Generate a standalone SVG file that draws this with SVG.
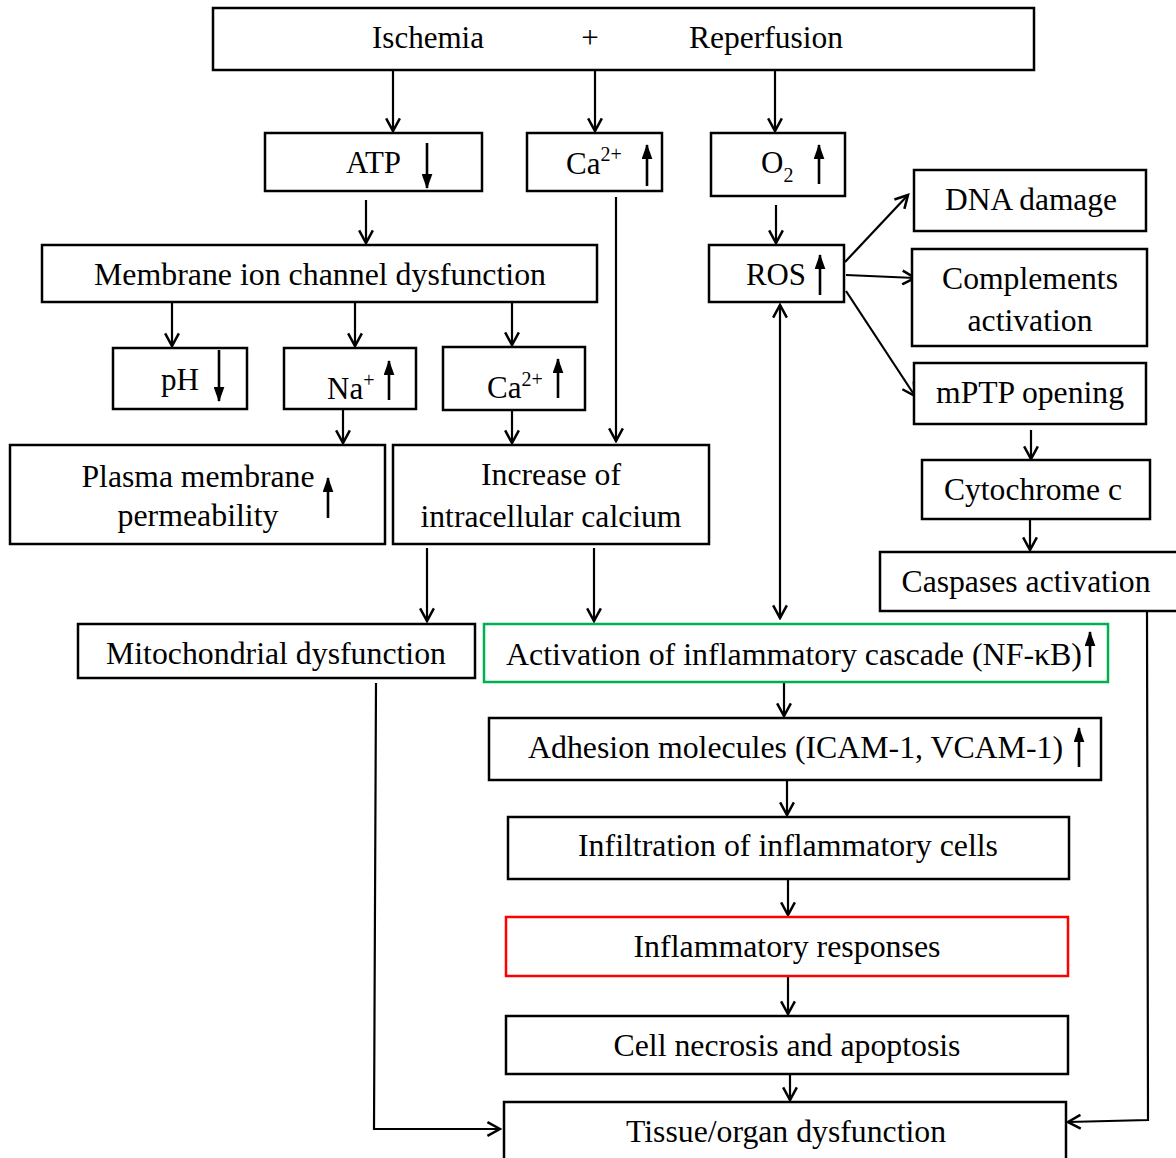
<svg xmlns="http://www.w3.org/2000/svg" width="1176" height="1158" viewBox="0 0 1176 1158">
<defs>
<style>
.box{fill:#fff;stroke:#000;stroke-width:2.5}
.green{stroke:#00b050}
.red{stroke:#ff0000}
text{font-family:"Liberation Serif","Times New Roman",serif;font-size:31px;fill:#000}
.c{text-anchor:middle}
.sup{font-size:20px}
.con{fill:none;stroke:#000;stroke-width:2.2}
.ind{fill:none;stroke:#000;stroke-width:2.6}
</style>
<marker id="ah" markerUnits="userSpaceOnUse" markerWidth="16" markerHeight="16" refX="12" refY="7" orient="auto-start-reverse" viewBox="0 0 14 14">
<path d="M1,1 L12,7 L1,13" fill="none" stroke="#000" stroke-width="2.2"/>
</marker>
<marker id="sh" markerUnits="userSpaceOnUse" markerWidth="15" markerHeight="11" refX="13" refY="5" orient="auto" viewBox="0 0 14 10">
<path d="M0,0 L14,5 L0,10 Z" fill="#000"/>
</marker>
</defs>

<g id="connectors">
<line class="con" x1="393" y1="70" x2="393" y2="131" marker-end="url(#ah)"/>
<line class="con" x1="595" y1="70" x2="595" y2="131" marker-end="url(#ah)"/>
<line class="con" x1="775" y1="70" x2="775" y2="131" marker-end="url(#ah)"/>
<line class="con" x1="366" y1="200" x2="366" y2="243" marker-end="url(#ah)"/>
<line class="con" x1="616" y1="197" x2="616" y2="441" marker-end="url(#ah)"/>
<line class="con" x1="776" y1="205" x2="776" y2="243" marker-end="url(#ah)"/>
<line class="con" x1="172" y1="302" x2="172" y2="346" marker-end="url(#ah)"/>
<line class="con" x1="355" y1="302" x2="355" y2="346" marker-end="url(#ah)"/>
<line class="con" x1="512" y1="302" x2="512" y2="345" marker-end="url(#ah)"/>
<line class="con" x1="343" y1="410" x2="343" y2="443" marker-end="url(#ah)"/>
<line class="con" x1="512" y1="411" x2="512" y2="443" marker-end="url(#ah)"/>
<line class="con" x1="427" y1="548" x2="427" y2="621" marker-end="url(#ah)"/>
<line class="con" x1="594" y1="548" x2="594" y2="621" marker-end="url(#ah)"/>
<line class="con" x1="780" y1="305" x2="780" y2="618" marker-start="url(#ah)" marker-end="url(#ah)"/>
<line class="con" x1="845" y1="262" x2="908" y2="195" marker-end="url(#ah)"/>
<line class="con" x1="846" y1="275" x2="915" y2="278" marker-end="url(#ah)"/>
<line class="con" x1="846" y1="291" x2="915" y2="396" marker-end="url(#ah)"/>
<line class="con" x1="1031" y1="430" x2="1031" y2="459" marker-end="url(#ah)"/>
<line class="con" x1="1030" y1="519" x2="1030" y2="550" marker-end="url(#ah)"/>
<line class="con" x1="784" y1="682" x2="784" y2="716" marker-end="url(#ah)"/>
<line class="con" x1="787" y1="780" x2="787" y2="815" marker-end="url(#ah)"/>
<line class="con" x1="788" y1="879" x2="788" y2="915" marker-end="url(#ah)"/>
<line class="con" x1="788" y1="976" x2="788" y2="1014" marker-end="url(#ah)"/>
<line class="con" x1="790" y1="1074" x2="790" y2="1100" marker-end="url(#ah)"/>
<polyline class="con" points="376,683 374,1129 500,1129" marker-end="url(#ah)"/>
<polyline class="con" points="1147,611 1148,1120 1068,1122" marker-end="url(#ah)"/>
</g>

<g id="n-top">
<rect class="box" x="213" y="8" width="821" height="62"/>
<text x="428" y="48" class="c" textLength="112" lengthAdjust="spacingAndGlyphs">Ischemia</text>
<text x="590" y="48" class="c">+</text>
<text x="766" y="48" class="c" textLength="154" lengthAdjust="spacingAndGlyphs">Reperfusion</text>
</g>

<g id="n-atp">
<rect class="box" x="265" y="133" width="217" height="58"/>
<text x="346" y="173" textLength="55" lengthAdjust="spacingAndGlyphs">ATP</text>
<line class="ind" x1="427" y1="143" x2="427" y2="188" marker-end="url(#sh)"/>
</g>

<g id="n-ca1">
<rect class="box" x="527" y="133" width="135" height="58"/>
<text x="566" y="174">Ca<tspan class="sup" dy="-13">2+</tspan></text>
<line class="ind" x1="647" y1="186" x2="647" y2="145" marker-end="url(#sh)"/>
</g>

<g id="n-o2">
<rect class="box" x="711" y="133" width="134" height="63"/>
<text x="761" y="173">O<tspan class="sup" dy="9">2</tspan></text>
<line class="ind" x1="819" y1="184" x2="819" y2="145" marker-end="url(#sh)"/>
</g>

<g id="n-membrane">
<rect class="box" x="42" y="245" width="555" height="57"/>
<text x="320" y="285" class="c" textLength="452" lengthAdjust="spacingAndGlyphs">Membrane ion channel dysfunction</text>
</g>

<g id="n-ph">
<rect class="box" x="113" y="348" width="134" height="61"/>
<text x="161" y="390" textLength="38" lengthAdjust="spacingAndGlyphs">pH</text>
<line class="ind" x1="219" y1="350" x2="219" y2="401" marker-end="url(#sh)"/>
</g>

<g id="n-na">
<rect class="box" x="284" y="348" width="132" height="61"/>
<text x="327" y="399">Na<tspan class="sup" dy="-12">+</tspan></text>
<line class="ind" x1="389" y1="400" x2="389" y2="361" marker-end="url(#sh)"/>
</g>

<g id="n-ca2">
<rect class="box" x="443" y="347" width="142" height="63"/>
<text x="487" y="398">Ca<tspan class="sup" dy="-12">2+</tspan></text>
<line class="ind" x1="558" y1="398" x2="558" y2="359" marker-end="url(#sh)"/>
</g>

<g id="n-plasma">
<rect class="box" x="10" y="445" width="375" height="99"/>
<text x="198" y="487" class="c" textLength="233" lengthAdjust="spacingAndGlyphs">Plasma membrane</text>
<text x="198" y="526" class="c" textLength="161" lengthAdjust="spacingAndGlyphs">permeability</text>
<line class="ind" x1="328" y1="518" x2="328" y2="478" marker-end="url(#sh)"/>
</g>

<g id="n-increase">
<rect class="box" x="393" y="445" width="316" height="99"/>
<text x="551" y="485" class="c" textLength="140" lengthAdjust="spacingAndGlyphs">Increase of</text>
<text x="551" y="527" class="c" textLength="261" lengthAdjust="spacingAndGlyphs">intracellular calcium</text>
</g>

<g id="n-ros">
<rect class="box" x="709" y="245" width="135" height="57"/>
<text x="746" y="285" textLength="60" lengthAdjust="spacingAndGlyphs">ROS</text>
<line class="ind" x1="820" y1="295" x2="820" y2="255" marker-end="url(#sh)"/>
</g>

<g id="n-dna">
<rect class="box" x="914" y="170" width="232" height="61"/>
<text x="1031" y="210" class="c" textLength="172" lengthAdjust="spacingAndGlyphs">DNA damage</text>
</g>

<g id="n-complements">
<rect class="box" x="912" y="249" width="235" height="97"/>
<text x="1030" y="289" class="c" textLength="176" lengthAdjust="spacingAndGlyphs">Complements</text>
<text x="1030" y="331" class="c" textLength="125" lengthAdjust="spacingAndGlyphs">activation</text>
</g>

<g id="n-mptp">
<rect class="box" x="914" y="363" width="232" height="61"/>
<text x="1030" y="403" class="c" textLength="188" lengthAdjust="spacingAndGlyphs">mPTP opening</text>
</g>

<g id="n-cyto">
<rect class="box" x="922" y="460" width="228" height="59"/>
<text x="1033" y="500" class="c" textLength="178" lengthAdjust="spacingAndGlyphs">Cytochrome c</text>
</g>

<g id="n-caspases">
<rect class="box" x="880" y="552" width="300" height="59"/>
<text x="1026" y="592" class="c" textLength="249" lengthAdjust="spacingAndGlyphs">Caspases activation</text>
</g>

<g id="n-mito">
<rect class="box" x="78" y="624" width="397" height="54"/>
<text x="276" y="664" class="c" textLength="340" lengthAdjust="spacingAndGlyphs">Mitochondrial dysfunction</text>
</g>

<g id="n-activation">
<rect class="box green" x="484" y="624" width="624" height="58"/>
<text x="506" y="665" textLength="576" lengthAdjust="spacingAndGlyphs">Activation of inflammatory cascade (NF-κB)</text>
<line class="ind" x1="1090" y1="667" x2="1090" y2="632" marker-end="url(#sh)"/>
</g>

<g id="n-adhesion">
<rect class="box" x="489" y="718" width="612" height="62"/>
<text x="528" y="758" textLength="535" lengthAdjust="spacingAndGlyphs">Adhesion molecules (ICAM-1, VCAM-1)</text>
<line class="ind" x1="1079" y1="767" x2="1079" y2="728" marker-end="url(#sh)"/>
</g>

<g id="n-infiltration">
<rect class="box" x="508" y="817" width="561" height="62"/>
<text x="788" y="856" class="c" textLength="420" lengthAdjust="spacingAndGlyphs">Infiltration of inflammatory cells</text>
</g>

<g id="n-inflammatory">
<rect class="box red" x="506" y="917" width="562" height="59"/>
<text x="787" y="957" class="c" textLength="307" lengthAdjust="spacingAndGlyphs">Inflammatory responses</text>
</g>

<g id="n-necrosis">
<rect class="box" x="506" y="1016" width="562" height="58"/>
<text x="787" y="1056" class="c" textLength="347" lengthAdjust="spacingAndGlyphs">Cell necrosis and apoptosis</text>
</g>

<g id="n-tissue">
<rect class="box" x="504" y="1102" width="562" height="62"/>
<text x="786" y="1142" class="c" textLength="320" lengthAdjust="spacingAndGlyphs">Tissue/organ dysfunction</text>
</g>
</svg>
